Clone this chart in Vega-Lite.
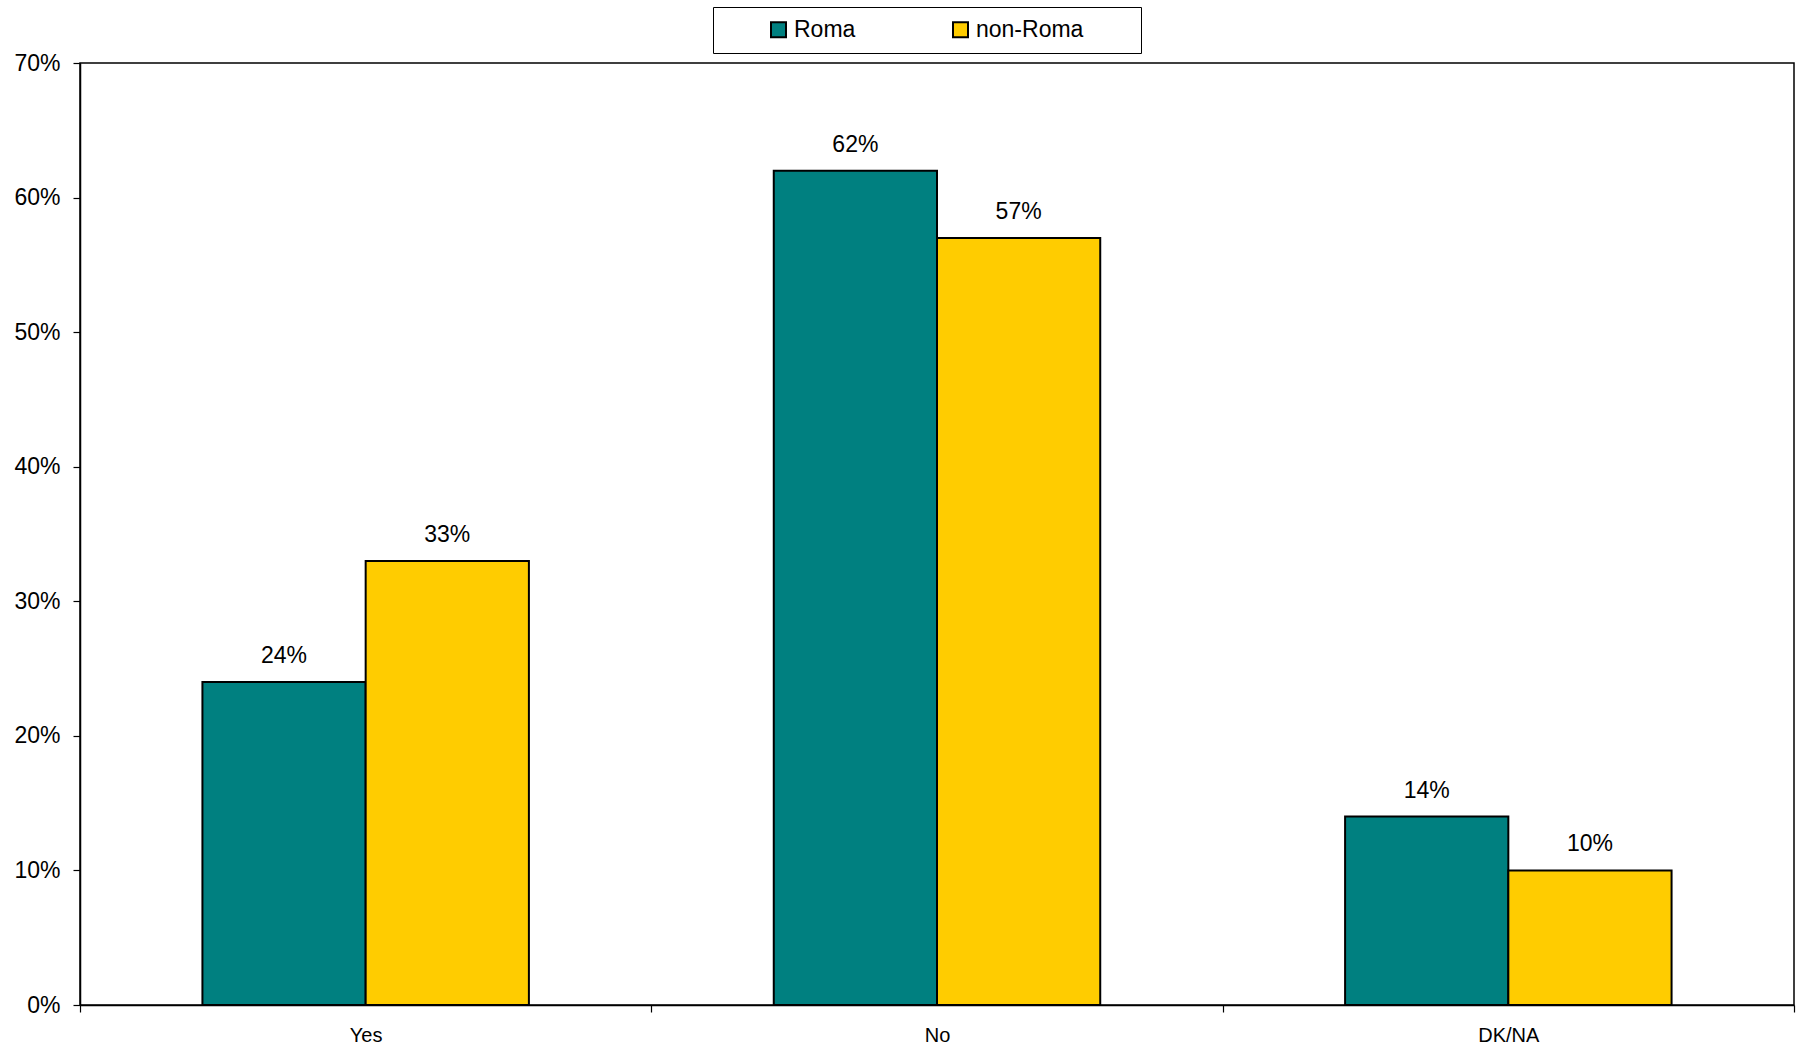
{
  "$schema": "https://vega.github.io/schema/vega-lite/v6.json",
  "autosize": {"type": "none"},
  "padding": {"left": 80, "top": 63, "right": 7, "bottom": 46},
  "width": 1714,
  "height": 942,
  "background": "white",
  "config": {
    "font": "Liberation Sans",
    "view": {"stroke": "black", "strokeWidth": 1.5},
    "axis": {"domainColor": "black", "tickColor": "black", "labelColor": "black", "domainWidth": 1.5, "tickWidth": 1.2, "grid": false}
  },
  "data": {
    "values": [
      {"answer": "Yes", "group": "Roma", "value": 0.24},
      {"answer": "Yes", "group": "non-Roma", "value": 0.33},
      {"answer": "No", "group": "Roma", "value": 0.62},
      {"answer": "No", "group": "non-Roma", "value": 0.57},
      {"answer": "DK/NA", "group": "Roma", "value": 0.14},
      {"answer": "DK/NA", "group": "non-Roma", "value": 0.10}
    ]
  },
  "encoding": {
    "x": {
      "field": "answer", "type": "nominal", "sort": ["Yes", "No", "DK/NA"],
      "scale": {"paddingInner": 0, "paddingOuter": 0},
      "axis": {"title": null, "labelAngle": 0, "tickBand": "extent", "tickSize": 7, "labelPadding": 13, "labelFontSize": 20, "labelBaseline": "top"}
    },
    "xOffset": {"field": "group", "type": "nominal", "sort": ["Roma", "non-Roma"], "scale": {"paddingInner": 0, "paddingOuter": 0.75}},
    "y": {
      "field": "value", "type": "quantitative",
      "scale": {"domain": [0, 0.7], "nice": false},
      "axis": {"title": null, "format": ".0%", "values": [0, 0.1, 0.2, 0.3, 0.4, 0.5, 0.6, 0.7], "tickSize": 7, "labelPadding": 13, "labelFontSize": 23}
    }
  },
  "layer": [
    {
      "mark": {"type": "bar", "stroke": "black", "strokeWidth": 2},
      "encoding": {
        "color": {
          "field": "group", "type": "nominal", "sort": ["Roma", "non-Roma"],
          "scale": {"domain": ["Roma", "non-Roma"], "range": ["#008080", "#FFCC00"]},
          "legend": {
            "title": null,
            "orient": "none",
            "legendX": 633,
            "legendY": -56,
            "direction": "horizontal",
            "columns": 2,
            "symbolType": "square",
            "symbolSize": 225,
            "symbolStrokeColor": "black",
            "symbolStrokeWidth": 2,
            "symbolOpacity": 1,
            "labelFontSize": 23,
            "labelColor": "black",
            "labelOffset": 4,
            "labelLimit": 400,
            "labelExpr": "datum.label == 'non-Roma' ? 'non-Roma\u2003\u2003\u200b' : datum.label",
            "columnPadding": 50,
            "padding": 11,
            "symbolOffset": 43,
            "strokeColor": "black",
            "fillColor": "white"
          }
        }
      }
    },
    {
      "mark": {"type": "text", "dy": -14, "fontSize": 23, "baseline": "bottom", "color": "black"},
      "encoding": {"text": {"field": "value", "type": "quantitative", "format": ".0%"}}
    }
  ]
}
